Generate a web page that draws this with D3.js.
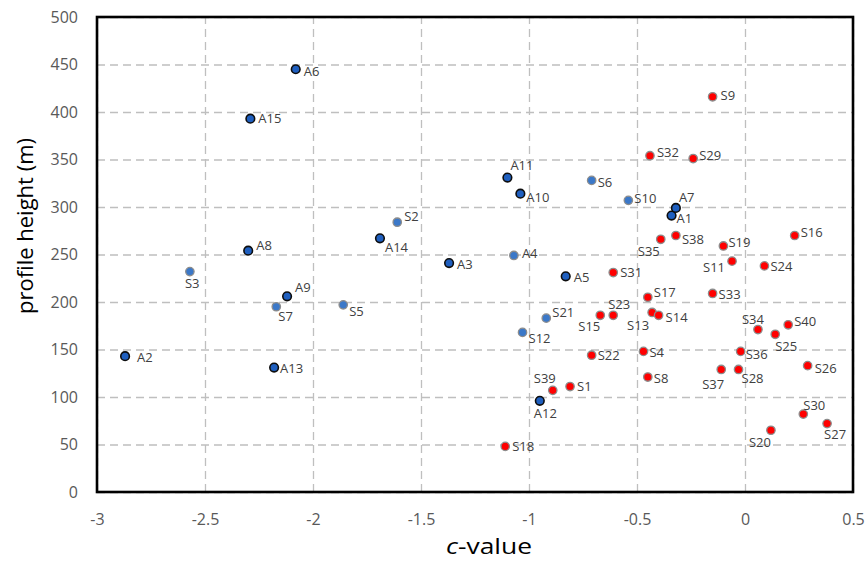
<!DOCTYPE html>
<html>
<head>
<meta charset="utf-8">
<script src="https://cdn.jsdelivr.net/npm/d3@7/dist/d3.min.js"></script>
<style>
  html, body { margin: 0; padding: 0; background: #ffffff; }
  svg { display: block; }
</style>
</head>
<body>
<svg id="chart" width="867" height="562"></svg>
<script>
// ---------------- data ----------------
// A-series (dark blue, black outline)
const aNames = ["A1","A2","A3","A4","A5","A6","A7","A8","A9","A10","A11","A12","A13","A14","A15"];
const aX     = [-0.34,-2.87,-1.37,-1.07,-0.83,-2.08,-0.32,-2.30,-2.12,-1.04,-1.10,-0.95,-2.18,-1.69,-2.29];
const aY     = [ 291,  143,  241,  249,  227,  445,  299,  254,  206,  314,  331,   96,  131,  267,  393];
// A-series member drawn like the light-blue S points
const aLightNames = ["A4"];

// S-series, blue
const sBlueNames = ["S2","S3","S5","S6","S7","S10","S12","S21"];
const sBlueX     = [-1.61,-2.57,-1.86,-0.71,-2.17,-0.54,-1.03,-0.92];
const sBlueY     = [ 284,  232,  197,  328,  195,  307,  168,  183];

// S-series, red
const sRedNames = ["S1","S4","S8","S9","S11","S13","S14","S15","S16","S17","S18","S19","S20","S22","S23","S24",
                   "S25","S26","S27","S28","S29","S30","S31","S32","S33","S34","S35","S36","S37","S38","S39","S40"];
const sRedX     = [-0.81,-0.47,-0.45,-0.15,-0.06,-0.43,-0.40,-0.67,0.23,-0.45,-1.11,-0.10,0.12,-0.71,-0.61,0.09,
                   0.14,0.29,0.38,-0.03,-0.24,0.27,-0.61,-0.44,-0.15,0.06,-0.39,-0.02,-0.11,-0.32,-0.89,0.20];
const sRedY     = [111,148,121,416,243,189,186,186,270,205,48,259,65,144,186,238,
                   166,133,72,129,351,82,231,354,209,171,266,148,129,270,107,176];

// axis ticks
const xTicks = [-3,-2.5,-2,-1.5,-1,-0.5,0,0.5];
const yTicks = [0,50,100,150,200,250,300,350,400,450,500];

// ---------------- layout / style ----------------
const W = 867, H = 562;
const plot = { left: 97, right: 853, top: 17, bottom: 492 };
const FONT = "'Open Sans', 'DejaVu Sans', sans-serif";

// label offsets (px from marker centre): [dx, dy, anchor]
const labelOffsets = {
  A1:[5,3,"start"], A2:[12,1,"start"], A3:[8,1,"start"], A4:[8,-2,"start"], A5:[8,1,"start"],
  A6:[8,2,"start"], A7:[3,-11,"start"], A8:[8,-5,"start"], A9:[8,-9,"start"], A10:[6,4,"start"],
  A11:[3,-12,"start"], A12:[-6,13,"start"], A13:[6,1,"start"], A14:[5,9,"start"], A15:[8,0,"start"],
  S1:[7,0,"start"], S2:[7,-6,"start"], S3:[-5,12,"start"], S4:[6,1,"start"], S5:[6,7,"start"],
  S6:[6,2,"start"], S7:[2,10,"start"], S8:[6,1,"start"], S9:[8,-1,"start"], S10:[6,-2,"start"],
  S11:[-7,6,"end"], S12:[6,6,"start"], S13:[-3,13,"end"], S14:[7,2,"start"], S15:[0,11,"end"],
  S16:[6,-3,"start"], S17:[6,-5,"start"], S18:[7,0,"start"], S19:[5,-4,"start"], S20:[0,12,"end"],
  S21:[6,-6,"start"], S22:[6,0,"start"], S23:[-5,-11,"start"], S24:[6,1,"start"], S25:[0,12,"start"],
  S26:[7,3,"start"], S27:[-3,11,"start"], S28:[3,9,"start"], S29:[6,-3,"start"], S30:[0,-9,"start"],
  S31:[7,0,"start"], S32:[7,-3,"start"], S33:[6,1,"start"], S34:[-16,-10,"start"], S35:[-1,12,"end"],
  S36:[5,3,"start"], S37:[3,15,"end"], S38:[6,4,"start"], S39:[-19,-12,"start"], S40:[6,-3,"start"]
};

const styles = {
  aDark:  { fill: "#1f5fbf", stroke: "#0d0d0d", sw: 1.6, r: 4.3 },
  sBlue:  { fill: "#3b78c8", stroke: "#8c8c8c", sw: 1.3, r: 4.2 },
  sRed:   { fill: "#ff0000", stroke: "#8c8c8c", sw: 1.3, r: 4.2 }
};

// ---------------- build ----------------
const svg = d3.select("#chart");
svg.append("rect").attr("width", W).attr("height", H).attr("fill", "#ffffff");

const x = d3.scaleLinear().domain([-3, 0.5]).range([plot.left, plot.right]);
const y = d3.scaleLinear().domain([0, 500]).range([plot.bottom, plot.top]);

// gridlines via axes
const gx = svg.append("g")
  .attr("transform", `translate(0,${plot.bottom})`)
  .call(d3.axisBottom(x).tickValues(xTicks).tickSize(-(plot.bottom - plot.top)).tickFormat(""));
gx.select(".domain").remove();
gx.selectAll("line").attr("stroke", "#bfbfbf").attr("stroke-width", 1.3).attr("stroke-dasharray", "8,5");

const gy = svg.append("g")
  .attr("transform", `translate(${plot.left},0)`)
  .call(d3.axisLeft(y).tickValues(yTicks).tickSize(-(plot.right - plot.left)).tickFormat(""));
gy.select(".domain").remove();
gy.selectAll("line").attr("stroke", "#bfbfbf").attr("stroke-width", 1.3).attr("stroke-dasharray", "8,5");

// tick labels via axes
const tx = svg.append("g")
  .attr("transform", `translate(0,${plot.bottom})`)
  .call(d3.axisBottom(x).tickValues(xTicks).tickSize(0).tickPadding(22).tickFormat(d => String(d)));
tx.select(".domain").remove();
tx.selectAll("text").attr("font-family", FONT).attr("font-size", 16).attr("fill", "#595959");

const ty = svg.append("g")
  .attr("transform", `translate(${plot.left},0)`)
  .call(d3.axisLeft(y).tickValues(yTicks).tickSize(0).tickPadding(19).tickFormat(d => String(d)));
ty.select(".domain").remove();
ty.selectAll("text").attr("font-family", FONT).attr("font-size", 16).attr("fill", "#595959");

// points
function makeSeries(names, xs, ys) {
  return names.map((n, i) => ({ name: n, x: xs[i], y: ys[i] }));
}
const aAll = makeSeries(aNames, aX, aY);
const aDarkPts = aAll.filter(d => !aLightNames.includes(d.name));
const aLightPts = aAll.filter(d => aLightNames.includes(d.name));
const bluePts = makeSeries(sBlueNames, sBlueX, sBlueY).concat(aLightPts);
const redPts = makeSeries(sRedNames, sRedX, sRedY);

function drawPoints(data, st, cls) {
  svg.append("g").attr("class", cls)
    .selectAll("circle").data(data).join("circle")
    .attr("cx", d => x(d.x)).attr("cy", d => y(d.y)).attr("r", st.r)
    .attr("fill", st.fill).attr("stroke", st.stroke).attr("stroke-width", st.sw);
}
drawPoints(redPts, styles.sRed, "red");
drawPoints(bluePts, styles.sBlue, "blue");
drawPoints(aDarkPts, styles.aDark, "adark");

// point labels
const allPts = aDarkPts.concat(bluePts, redPts);
svg.append("g").attr("class", "labels")
  .selectAll("text").data(allPts).join("text")
  .attr("x", d => x(d.x) + (labelOffsets[d.name] || [7,0])[0])
  .attr("y", d => y(d.y) + (labelOffsets[d.name] || [7,0])[1])
  .attr("dy", "0.35em")
  .attr("text-anchor", d => (labelOffsets[d.name] || [0,0,"start"])[2])
  .attr("font-family", FONT).attr("font-size", 13).attr("fill", "#404040")
  .text(d => d.name);

// frame
svg.append("rect")
  .attr("x", plot.left).attr("y", plot.top)
  .attr("width", plot.right - plot.left).attr("height", plot.bottom - plot.top)
  .attr("fill", "none").attr("stroke", "#000000").attr("stroke-width", 2.6);

// axis titles
const xt = svg.append("text")
  .attr("transform", "translate(489,554) scale(1.2,1)")
  .attr("text-anchor", "middle")
  .attr("font-family", FONT).attr("font-size", 22).attr("fill", "#000000");
xt.append("tspan").attr("font-style", "italic").text("c");
xt.append("tspan").text("-value");

svg.append("text")
  .attr("transform", `translate(25,226) rotate(-90)`)
  .attr("text-anchor", "middle").attr("dy", "0.35em")
  .attr("font-family", FONT).attr("font-size", 22).attr("fill", "#000000")
  .text("profile height (m)");
</script>
</body>
</html>
